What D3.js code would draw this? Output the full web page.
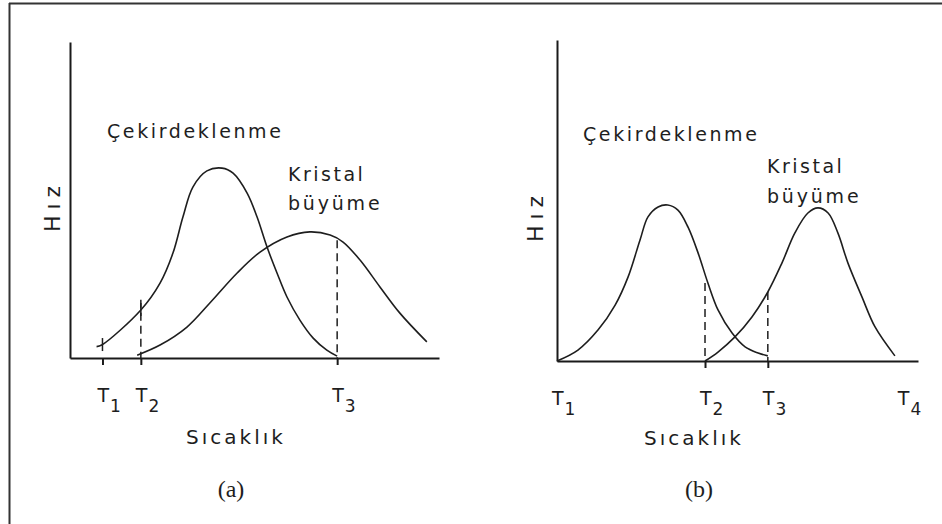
<!DOCTYPE html>
<html>
<head>
<meta http-equiv='Content-Type' content='text/html;charset=utf-8'/>
<title>Çekirdeklenme ve kristal büyüme</title>
<script src='https://d3js.org/d3.v7.min.js'></script>
<style>
body {
	margin: 0;
	background: #ffffff;
}
.curve {
	fill: none;
	stroke: #1e1e1e;
	stroke-width: 1.6;
}
.guide {
	stroke: #1e1e1e;
	stroke-width: 1.5;
	stroke-dasharray: 8,5;
}
.mark {
	stroke: #1e1e1e;
	stroke-width: 1.5;
}
.axis path, .axis line {
	stroke: #1a1a1a;
	stroke-width: 2;
}
.lbl {
	font-family: 'DejaVu Sans', sans-serif;
	fill: #1e1e1e;
}
.cap {
	font-family: 'Liberation Serif', serif;
	font-size: 24px;
	fill: #1e1e1e;
}
</style>
</head>
<body>
<script>
'use strict'

// temperature (0-100 along the axis) vs rate (0-100 up the axis)

// panel (a)
const tickNamesA = ['1', '2', '3']
const tickValuesA = [8.8, 19.2, 72.4]
const nucleationA = [
	[7.2, 3.6], [8.6, 4.1], [19.2, 15.2], [24.4, 23.7], [27.9, 33.2], [30.6, 44.6],
	[33.3, 54.1], [37.1, 59.2], [41.2, 60.1], [44.2, 58.5], [48.0, 52.2], [50.7, 44.6],
	[53.4, 35.1], [56.1, 26.9], [58.8, 19.3], [62.3, 12.0], [65.9, 6.3], [69.6, 2.5], [72.4, 0.6]
]
const growthA = [
	[18.2, 0.9], [24.4, 4.1], [31.7, 9.8], [37.9, 17.4], [45.3, 26.9], [51.5, 33.5],
	[58.8, 38.3], [65.0, 39.9], [70.5, 38.9], [74.0, 36.7], [78.6, 31.0], [84.0, 22.5],
	[89.4, 14.2], [96.7, 5.1]
]
const guidesA = [[19.2, 18.4], [72.4, 37.3]]
const crossMarksA = [[8.8, 4.1], [19.2, 15.2]]

// panel (b)
const tickNamesB = ['1', '2', '3', '4']
const tickValuesB = [0, 41.0, 58.4, 95.8]
const axisTicksB = [41.0, 58.4]
const nucleationB = [
	[0, 0], [5.8, 3.4], [11.4, 9.7], [16.1, 17.4], [19.7, 26.2], [23.0, 37.7],
	[25.2, 44.9], [28.0, 48.0], [30.7, 48.6], [33.5, 47.0], [36.3, 41.7], [39.1, 33.6],
	[41.8, 24.3], [44.6, 15.9], [48.5, 8.7], [52.1, 4.4], [55.7, 2.5], [58.4, 1.6]
]
const growthB = [
	[41.0, 0], [44.6, 2.8], [49.3, 7.5], [54.0, 13.7], [58.4, 21.5], [62.3, 30.5],
	[65.9, 39.9], [69.5, 46.1], [72.3, 47.7], [75.1, 46.1], [77.8, 39.9], [80.6, 30.5],
	[84.5, 19.9], [88.1, 10.6], [93.6, 1.6]
]
const guidesB = [[41.0, 24.3], [58.4, 21.5]]
const crossMarksB = []

const yLabel = 'Hız'
const xLabel = 'Sıcaklık'
const nucleationLabel = 'Çekirdeklenme'
const growthLabel = ['Kristal', 'büyüme']

const svg = d3.select('body').append('svg')
	.attr('width', 942)
	.attr('height', 524)

// scan frame: only top and left edges are visible
svg.append('line').attr('x1', 9).attr('x2', 942).attr('y1', 3.5).attr('y2', 3.5)
	.attr('stroke', '#333').attr('stroke-width', 2)
svg.append('line').attr('x1', 9.5).attr('x2', 9.5).attr('y1', 3).attr('y2', 524)
	.attr('stroke', '#333').attr('stroke-width', 2)

const panels = [
	{
		caption: '(a)', xr: [70, 439], yr: [358, 42],
		ticks: tickValuesA, names: tickNamesA, axisTicks: tickValuesA,
		nucleation: nucleationA, growth: growthA, guides: guidesA, crosses: crossMarksA,
		nucPos: [107, 138], growPos: [288, 181], growGap: 29,
		hizPos: [52, 206], xlabPos: [236, 444], capPos: [231, 497], tBase: 402
	},
	{
		caption: '(b)', xr: [557, 918], yr: [361, 40],
		ticks: tickValuesB, names: tickNamesB, axisTicks: axisTicksB,
		nucleation: nucleationB, growth: growthB, guides: guidesB, crosses: crossMarksB,
		nucPos: [583, 141], growPos: [767, 173], growGap: 30,
		hizPos: [535, 216], xlabPos: [694, 445], capPos: [699, 497], tBase: 405
	}
]

panels.forEach(drawPanel)

/**
 * drawPanel
 * One rate vs temperature sketch.
 */
function drawPanel(p)
{
	const x = d3.scaleLinear().domain([0, 100]).range(p.xr)
	const y = d3.scaleLinear().domain([0, 100]).range(p.yr)
	const g = svg.append('g')

	const line = d3.line()
		.x(function(d) { return x(d[0]) })
		.y(function(d) { return y(d[1]) })
		.curve(d3.curveCatmullRom.alpha(0.5))

	// axes, no numbers
	g.append('g')
		.attr('class', 'axis')
		.attr('transform', 'translate(0,' + y(0) + ')')
		.call(d3.axisBottom(x).tickValues(p.axisTicks).tickSize(7).tickSizeOuter(0).tickFormat(''))
	g.append('g')
		.attr('class', 'axis')
		.attr('transform', 'translate(' + x(0) + ',0)')
		.call(d3.axisLeft(y).tickValues([]).tickSizeOuter(0))

	// dashed drops to the axis
	g.selectAll('.guide').data(p.guides).enter().append('line')
		.attr('class', 'guide')
		.attr('x1', function(d) { return x(d[0]) })
		.attr('x2', function(d) { return x(d[0]) })
		.attr('y1', function(d) { return y(d[1]) })
		.attr('y2', y(0))

	// short marks across the curve
	g.selectAll('.mark').data(p.crosses).enter().append('line')
		.attr('class', 'mark')
		.attr('x1', function(d) { return x(d[0]) })
		.attr('x2', function(d) { return x(d[0]) })
		.attr('y1', function(d) { return y(d[1]) - 7 })
		.attr('y2', function(d) { return y(d[1]) + 6 })

	g.append('path').attr('class', 'curve').attr('d', line(p.nucleation))
	g.append('path').attr('class', 'curve').attr('d', line(p.growth))

	// T labels with subscripts
	p.ticks.forEach(function(t, i) {
		const txt = g.append('text')
			.attr('class', 'lbl')
			.attr('x', x(t) - 5)
			.attr('y', p.tBase)
			.style('font-size', '19px')
		txt.append('tspan').text('T')
		txt.append('tspan').attr('dy', 10).attr('dx', 1).style('font-size', '17px').text(p.names[i])
	})

	g.append('text')
		.attr('class', 'lbl')
		.attr('x', p.nucPos[0])
		.attr('y', p.nucPos[1])
		.style('font-size', '19px')
		.style('letter-spacing', '2.6px')
		.text(nucleationLabel)

	growthLabel.forEach(function(s, i) {
		g.append('text')
			.attr('class', 'lbl')
			.attr('x', p.growPos[0])
			.attr('y', p.growPos[1] + i * p.growGap)
			.style('font-size', '19px')
			.style('letter-spacing', i == 0 ? '2.5px' : '2.8px')
			.text(s)
	})

	g.append('text')
		.attr('class', 'lbl')
		.attr('transform', 'translate(' + p.hizPos[0] + ',' + p.hizPos[1] + ') rotate(-90)')
		.attr('text-anchor', 'middle')
		.attr('dy', '0.36em')
		.style('font-size', '22px')
		.style('letter-spacing', '6px')
		.text(yLabel)

	g.append('text')
		.attr('class', 'lbl')
		.attr('x', p.xlabPos[0])
		.attr('y', p.xlabPos[1])
		.attr('text-anchor', 'middle')
		.style('font-size', '20px')
		.style('letter-spacing', '3px')
		.text(xLabel)

	g.append('text')
		.attr('class', 'cap')
		.attr('x', p.capPos[0])
		.attr('y', p.capPos[1])
		.attr('text-anchor', 'middle')
		.text(p.caption)
}
</script>
</body>
</html>
